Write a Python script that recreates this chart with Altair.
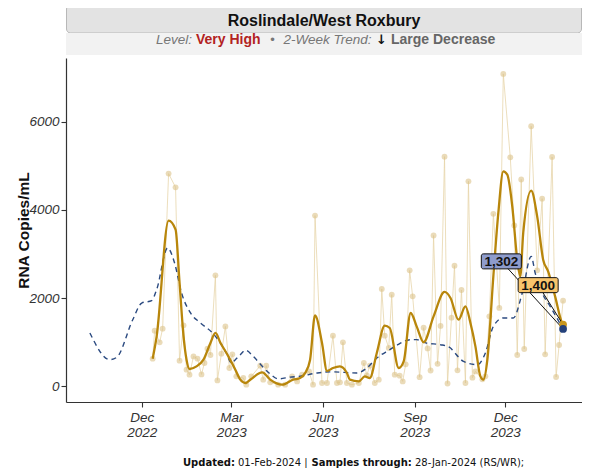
import altair as alt
import pandas as pd

# ---------------- data ----------------
BASE = "2022-12-01"  # day offsets below are counted from this date

raw_days = [11, 13, 18, 21, 27, 34, 38, 42, 45, 48, 52, 56, 60, 63, 66, 69, 74, 76, 80, 84,
            88, 91, 95, 102, 105, 110, 119, 122, 125, 129, 137, 144, 151, 156, 161, 168, 172, 174, 181, 186,
            192, 196, 199, 202, 206, 211, 218, 223, 226, 229, 234, 238, 241, 244, 248, 251, 254, 259, 262, 265,
            269, 272, 279, 283, 287, 290, 293, 297, 300, 304, 307, 311, 314, 317, 321, 325, 328, 332, 335, 342,
            345, 349, 353, 359, 363, 370, 374, 377, 381, 384, 391, 397, 402, 405, 412, 416, 419, 423]
raw_vals = [628, 1263, 998, 1308, 4823, 4513, 583, 1383, 379, 265, 680, 628, 272, 530, 855, 712, 2517, 136, 741, 1360,
            417, 726, 227, 190, 38, 227, 469, 152, 469, 91, 38, 38, 227, 113, 265, 340, 38, 3871, 77, 77,
            1150, 77, 91, 998, 77, 38, 77, 530, 250, 469, 77, 152, 2209, 1150, 871, 2080, 265, 243, 113, 500,
            2630, 2041, 208, 1330, 860, 360, 3420, 512, 1370, 5208, 65, 1558, 2735, 363, 2185, 77, 4649, 197, 340, 160,
            227, 1587, 3912, 1778, 7084, 5193, 3648, 711, 4690, 848, 5896, 2630, 4256, 727, 5201, 213, 938, 1943]

gold_days = [11, 15, 27, 34, 38, 42, 45, 48, 55, 62, 69, 74, 79, 87, 94, 99, 104, 109, 121, 129,
             141, 152, 159, 164, 169, 174, 181, 186, 192, 199, 206, 209, 218, 224, 229, 236, 244, 249, 258, 263,
             270, 276, 283, 293, 304, 310, 318, 325, 330, 335, 340, 343, 347, 353, 358, 363, 367, 372, 377, 380,
             383, 391, 397, 403, 408, 415, 422, 423]
gold_vals = [628, 1134, 3757, 3553, 2345, 1134, 605, 394, 454, 605, 984, 1211, 990, 680, 379, 152, 77, 152, 318, 152,
             38, 152, 190, 300, 600, 1610, 984, 350, 417, 454, 303, 152, 113, 227, 190, 757, 1376, 1324, 417, 567,
             1664, 1361, 1000, 1587, 2141, 2004, 1512, 1814, 1437, 907, 227, 152, 605, 2494, 3932, 4875, 4800, 4082, 2873, 2494,
             3478, 4437, 3855, 2873, 2608, 2041, 1437, 1400]

dash_days = [-52, -32, -25, -9, 0, 10, 15, 26, 33, 40, 49, 59, 72, 85, 90, 94, 99, 104, 112, 121,
             129, 137, 149, 159, 176, 189, 203, 216, 226, 236, 249, 256, 270, 276, 286, 300, 310, 313, 323, 337,
             345, 353, 363, 373, 382, 391, 395, 402, 410, 423]
dash_vals = [1211, 605, 660, 1512, 1890, 1945, 2193, 3138, 2798, 2118, 1664, 1437, 1190, 757, 530, 605, 719, 820, 680, 454,
             280, 170, 210, 230, 303, 330, 318, 303, 417, 643, 832, 930, 1059, 1059, 980, 945, 871, 794, 567, 492,
             757, 1361, 1551, 1551, 2118, 2948, 2571, 2118, 1814, 1302]

end_day = 423
end_vals = [1400, 1302]
end_colors = ["#c8961e", "#23407a"]

label_texts = ["1,302", "1,400"]
label_days = [361, 398]
label_vals = [2834, 2295]
label_targets = [1302, 1400]
label_fills = ["#8e9ccc", "#f7c46c"]

y_ticks = [0, 2000, 4000, 6000]


def to_dates(days):
    b = pd.Timestamp(BASE)
    return [(b + pd.Timedelta(days=int(d))).strftime("%Y-%m-%dT00:00:00") for d in days]


raw_df = pd.DataFrame({"date": to_dates(raw_days), "v": raw_vals})
gold_df = pd.DataFrame({"date": to_dates(gold_days), "v": gold_vals})
dash_df = pd.DataFrame({"date": to_dates(dash_days), "v": dash_vals})
end_df = pd.DataFrame({"date": to_dates([end_day] * 2), "v": end_vals, "c": end_colors})
lab_df = pd.DataFrame({
    "date": to_dates(label_days), "v": label_vals, "text": label_texts, "fill": label_fills,
    "date2": to_dates([end_day] * 2), "v2": label_targets,
})
one = pd.DataFrame({"a": [1]})

W, H = 516, 344
FONT = "Liberation Sans"

x_enc = alt.X(
    "date:T",
    scale=alt.Scale(domain=[alt.DateTime(year=2022, month=9, date=16),
                            alt.DateTime(year=2024, month=2, date=16)], nice=False),
    axis=alt.Axis(
        values=[alt.DateTime(year=2022, month=12, date=1), alt.DateTime(year=2023, month=3, date=1),
                alt.DateTime(year=2023, month=6, date=1), alt.DateTime(year=2023, month=9, date=1),
                alt.DateTime(year=2023, month=12, date=1)],
        labelExpr="[timeFormat(datum.value, '%b'), timeFormat(datum.value, '%Y')]",
        labelFont=FONT, labelFontStyle="italic", labelFontSize=13.5, labelColor="#333",
        labelLineHeight=15, labelPadding=3, tickSize=5, grid=False,
    ),
    title=None,
)
y_enc = alt.Y(
    "v:Q",
    scale=alt.Scale(domain=[-354, 7444], nice=False, zero=False),
    axis=alt.Axis(
        values=y_ticks, format="d", labelFont=FONT, labelFontStyle="italic", labelFontSize=13.5,
        labelColor="#333", labelPadding=2, tickSize=5, grid=False,
        titleFont=FONT, titleFontWeight="bold", titleFontSize=15.5, titleColor="#111",
        titleX=-35, titleY=H / 2, titleAngle=270, titleBaseline="bottom", titleAlign="center",
    ),
    title="RNA Copies/mL",
)


def txt(s, x, y, size, color, weight="normal", style="normal", align="left", font=FONT):
    return alt.Chart(one).mark_text(
        text=s, align=align, baseline="alphabetic", font=font, fontSize=size,
        fontWeight=weight, fontStyle=style, color=color,
    ).encode(x=alt.value(x), y=alt.value(y))


title_box = alt.Chart(one).mark_rect(
    fill="#e3e3e3", stroke="#b8b8b8", strokeWidth=1, cornerRadius=4
).encode(x=alt.value(0.5), x2=alt.value(W - 0.5), y=alt.value(-53), y2=alt.value(-25))
sub_band = alt.Chart(one).mark_rect(fill="#f2f2f2").encode(
    x=alt.value(0), x2=alt.value(W), y=alt.value(-25), y2=alt.value(-3))

texts = [
    txt("Roslindale/West Roxbury", W / 2, -32, 16, "#111", weight="bold", align="center"),
    txt("Level:", 90, -14.5, 13.5, "#777", style="italic"),
    txt("Very High", 130, -14.5, 14, "#b22222", weight="bold"),
    txt("•", 206.5, -14.5, 13, "#777", align="center"),
    txt("2-Week Trend:", 217.5, -14.5, 13.5, "#777", style="italic"),
    txt("↓", 310, -14.5, 13, "#111", weight="bold", font="DejaVu Sans"),
    txt("Large Decrease", 325, -14.5, 14, "#666", weight="bold"),
    txt("Updated:", 117, 408, 10, "#111", weight="bold", font="DejaVu Sans"),
    txt("01-Feb-2024 |", 172, 408, 10, "#111", font="DejaVu Sans"),
    txt("Samples through:", 245.5, 408, 10, "#111", weight="bold", font="DejaVu Sans"),
    txt("28-Jan-2024 (RS/WR);", 349, 408, 10, "#111", font="DejaVu Sans"),
]

raw_line = alt.Chart(raw_df).mark_line(color="#e6d3a6", strokeWidth=1, opacity=0.75).encode(x=x_enc, y=y_enc)
raw_pts = alt.Chart(raw_df).mark_circle(color="#dcc38a", size=34, opacity=0.6).encode(x=x_enc, y=y_enc)
dash_line = alt.Chart(dash_df).mark_line(
    color="#2b4a80", strokeWidth=1.4, strokeDash=[5, 4], interpolate="monotone"
).encode(x=x_enc, y=y_enc)
gold_line = alt.Chart(gold_df).mark_line(
    color="#b8860b", strokeWidth=2.3, interpolate="monotone"
).encode(x=x_enc, y=y_enc)
rules = alt.Chart(lab_df).mark_rule(color="#111", strokeWidth=1).encode(
    x=x_enc, y=y_enc, x2=alt.X2("date2:T"), y2=alt.Y2("v2:Q"))
end_pts = alt.Chart(end_df).mark_circle(size=60, opacity=1).encode(
    x=x_enc, y=y_enc, color=alt.Color("c:N", scale=None))
boxes = alt.Chart(lab_df).mark_rect(
    xOffset=-20, x2Offset=20, yOffset=-7.5, y2Offset=7.5, cornerRadius=2, stroke="#111", strokeWidth=1
).encode(x=x_enc, x2=alt.X2("date:T"), y=y_enc, y2=alt.Y2("v:Q"), fill=alt.Fill("fill:N", scale=None))
box_text = alt.Chart(lab_df).mark_text(
    font=FONT, fontWeight="bold", fontSize=13.5, color="#111", baseline="middle", dy=1
).encode(x=x_enc, y=y_enc, text="text:N")

chart = alt.layer(
    title_box, sub_band, *texts,
    raw_line, raw_pts, dash_line, gold_line, rules, end_pts, boxes, box_text,
).properties(
    width=W, height=H,
    padding={"left": 58, "top": 50, "right": 0, "bottom": 66},
    autosize=alt.AutoSizeParams(type="none"),
).configure_view(stroke=None).configure_axis(
    domainColor="#333", tickColor="#333", domainWidth=1.2, tickWidth=1.1
)

chart.save("out.html", embed_options={"renderer": "svg", "actions": False})
